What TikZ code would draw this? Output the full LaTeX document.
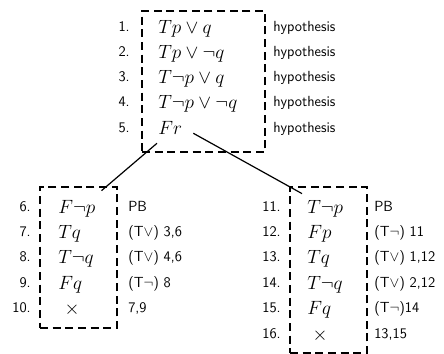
\documentclass[tikz,border=0pt]{standalone}
\usepackage{amsmath,amssymb}
\usepackage{tikz}
\usetikzlibrary{fit}

\begin{document}
\begin{tikzpicture}[
    x=0.75pt, y=-0.75pt,
    fml/.style={anchor=base west, inner sep=0pt, font=\fontsize{15}{18}\selectfont},
    cross/.style={anchor=base, inner sep=0pt, font=\fontsize{15}{18}\selectfont},
    num/.style={anchor=base east, inner sep=0pt, font=\sffamily\fontsize{11}{13}\selectfont},
    why/.style={anchor=base west, inner sep=0pt, font=\sffamily\fontsize{11}{13}\selectfont},
    tbox/.style={draw, line width=1.1pt, dash pattern=on 6pt off 3.5pt, inner sep=0pt},
    branch/.style={line width=0.9pt},
]
    \useasboundingbox (0,0) rectangle (444,354);

    % hypotheses
    \node[num] (n1) at (130,31) {1.};
    \node[num] (n2) at (130,56) {2.};
    \node[num] (n3) at (130,81) {3.};
    \node[num] (n4) at (130,106) {4.};
    \node[num] (n5) at (130,132) {5.};
    \node[fml] (top1) at (158,33) {$Tp\vee q$};
    \node[fml] (top2) at (158,58) {$Tp\vee\neg q$};
    \node[fml] (top3) at (158,83) {$T\neg p\vee q$};
    \node[fml] (top4) at (158,108) {$T\neg p\vee\neg q$};
    \node[fml] (top5) at (158,134) {$Fr$};
    \node[why] (h1) at (273,31) {hypothesis};
    \node[why] (h2) at (273,56) {hypothesis};
    \node[why] (h3) at (273,81) {hypothesis};
    \node[why] (h4) at (273,106) {hypothesis};
    \node[why] (h5) at (273,132) {hypothesis};
    \node[tbox, fit={(142,11) (265,152)}] (topbox) {};

    % left branch
    \node[num] (n6) at (31,211) {6.};
    \node[num] (n7) at (31,236) {7.};
    \node[num] (n8) at (31,261) {8.};
    \node[num] (n9) at (31,287) {9.};
    \node[num] (n10) at (31,312) {10.};
    \node[fml] (left6) at (58,213) {$F\neg p$};
    \node[fml] (left7) at (58,238) {$Tq$};
    \node[fml] (left8) at (58,263) {$T\neg q$};
    \node[fml] (left9) at (58,289) {$Fq$};
    \node[cross] (left10) at (72,314) {$\times$};
    \node[why] (j6) at (128,211) {PB};
    \node[why] (j7) at (128,236) {(T$\vee$) 3,6};
    \node[why] (j8) at (128,261) {(T$\vee$) 4,6};
    \node[why] (j9) at (128,287) {(T$\neg$) 8};
    \node[why] (j10) at (128,312) {7,9};
    \node[tbox, fit={(40,187) (117,328)}] (leftbox) {};

    % right branch
    \node[num] (n11) at (281,211) {11.};
    \node[num] (n12) at (281,236) {12.};
    \node[num] (n13) at (281,261) {13.};
    \node[num] (n14) at (281,287) {14.};
    \node[num] (n15) at (281,312) {15.};
    \node[num] (n16) at (281,338) {16.};
    \node[fml] (right11) at (307,213) {$T\neg p$};
    \node[fml] (right12) at (307,238) {$Fp$};
    \node[fml] (right13) at (307,263) {$Tq$};
    \node[fml] (right14) at (307,289) {$T\neg q$};
    \node[fml] (right15) at (307,314) {$Fq$};
    \node[cross] (right16) at (320,340) {$\times$};
    \node[why] (j11) at (374,211) {PB};
    \node[why] (j12) at (374,236) {(T$\neg$) 11};
    \node[why] (j13) at (374,261) {(T$\vee$) 1,12};
    \node[why] (j14) at (374,287) {(T$\vee$) 2,12};
    \node[why] (j15) at (374,312) {(T$\neg$)14};
    \node[why] (j16) at (374,338) {13,15};
    \node[tbox, fit={(290,187) (367,353)}] (rightbox) {};

    \draw[branch] ([shift={(-1,9)}]top5.south west) -- ([shift={(6,-9)}]left6.north east);
    \draw[branch] ([shift={(11,-1)}]top5.south east) -- ([shift={(-5,-6)}]right11.north west);
\end{tikzpicture}
\end{document}
